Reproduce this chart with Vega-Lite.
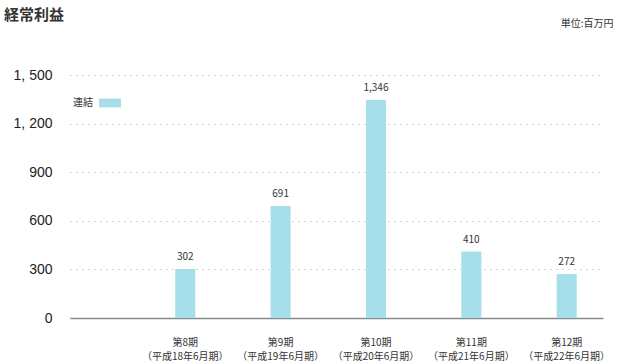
{
  "$schema": "https://vega.github.io/schema/vega-lite/v6.json",
  "autosize": "none",
  "width": 533,
  "height": 243,
  "padding": {"left": 70, "top": 75, "right": 26, "bottom": 43},
  "background": "white",
  "config": {
    "font": "Noto Sans CJK JP",
    "view": {"stroke": null}
  },
  "title": {
    "text": "経常利益",
    "anchor": "start",
    "frame": "group",
    "dx": -66,
    "offset": -20,
    "baseline": "bottom",
    "fontSize": 15,
    "fontWeight": "bold",
    "color": "#333333",
    "font": "Noto Sans CJK JP"
  },
  "data": {
    "values": [
      {"period": "第8期|（平成18年6月期）", "series": "連結", "value": 302},
      {"period": "第9期|（平成19年6月期）", "series": "連結", "value": 691},
      {"period": "第10期|（平成20年6月期）", "series": "連結", "value": 1346},
      {"period": "第11期|（平成21年6月期）", "series": "連結", "value": 410},
      {"period": "第12期|（平成22年6月期）", "series": "連結", "value": 272}
    ]
  },
  "encoding": {
    "x": {
      "field": "period",
      "type": "nominal",
      "sort": null,
      "scale": {"paddingInner": 0.79, "paddingOuter": 0.69, "align": 0.8},
      "axis": {
        "title": null,
        "labelAngle": 0,
        "labelExpr": "split(datum.value, '|')",
        "labelFontSize": 10,
        "labelColor": "#333333",
        "labelLineHeight": 14,
        "labelPadding": 19,
        "ticks": false,
        "domainColor": "#8a8a8a",
        "domainWidth": 1.5,
        "grid": false
      }
    },
    "y": {
      "field": "value",
      "type": "quantitative",
      "scale": {"domain": [0, 1500], "nice": false},
      "axis": {
        "values": [0, 300, 600, 900, 1200, 1500],
        "labelExpr": "replace(format(datum.value, ','), ',', ', ')",
        "labelFontSize": 14,
        "labelColor": "#222222",
        "labelFont": "Liberation Sans",
        "labelPadding": 18,
        "ticks": false,
        "domain": false,
        "grid": true,
        "gridColor": "#aaaaaa",
        "gridDash": [1, 5],
        "gridWidth": 1,
        "title": "単位:百万円",
        "titleAngle": 0,
        "titleAlign": "right",
        "titleBaseline": "bottom",
        "titleX": 543,
        "titleY": -47,
        "titleFontSize": 10,
        "titleFontWeight": "normal",
        "titleColor": "#333333"
      }
    }
  },
  "layer": [
    {
      "mark": {"type": "bar", "color": "#a6dfea"},
      "encoding": {
        "color": {
          "field": "series",
          "type": "nominal",
          "scale": {"range": ["#a6dfea"]},
          "legend": {
            "title": null,
            "orient": "none",
            "legendX": 29,
            "legendY": 17,
            "symbolType": "M-1,-0.4H1V0.4H-1Z",
            "symbolSize": 484,
            "symbolStrokeWidth": 0,
            "symbolOpacity": 1,
            "labelAlign": "right",
            "labelOffset": -28,
            "labelFontSize": 10,
            "labelColor": "#333333",
            "padding": 0
          }
        }
      }
    },
    {
      "mark": {"type": "text", "dy": -7, "baseline": "bottom", "fontSize": 10, "color": "#333333"},
      "encoding": {
        "text": {"field": "value", "type": "quantitative", "format": ","}
      }
    }
  ]
}
